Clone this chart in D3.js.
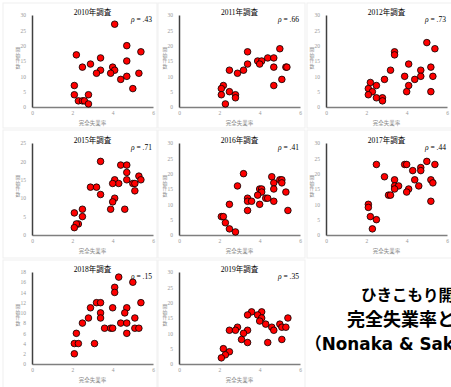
<!DOCTYPE html>
<html lang="ja">
<head>
    <meta charset="UTF-8">
    <title>ひきこもり開始件数と完全失業率</title>
    <style>
        body {
            margin: 0;
            background: #fff;
            overflow: hidden;
        }
        svg {
            display: block;
        }
        .tick text {
            fill: #999;
            font-family: "Liberation Serif", serif;
            font-size: 5.5px;
        }
        .domain {
            stroke-width: 1.5;
        }
        .title {
            font-family: "Liberation Serif", "Noto Sans CJK JP", serif;
            font-size: 7.5px;
            fill: #000;
        }
        .rho {
            font-family: "Liberation Serif", serif;
            font-size: 7.5px;
            fill: #000;
        }
        .axis-label {
            font-family: "Noto Sans CJK JP", sans-serif;
            font-size: 5.5px;
            fill: #8c8c8c;
        }
        .y-label {
            font-family: "Noto Sans CJK JP", sans-serif;
            font-size: 4.9px;
            fill: #8c8c8c;
            writing-mode: vertical-rl;
            text-orientation: upright;
            letter-spacing: 0.5px;
        }
        .note {
            font-family: "Noto Sans CJK JP", sans-serif;
            font-weight: 700;
            fill: #000;
        }
    </style>
</head>
<body>
    <svg id="chart" width="451" height="387"></svg>

    <script src="https://d3js.org/d3.v7.min.js"></script>
    <script>
        // survey years, correlation and y-axis max per panel
        const years = ['2010', '2011', '2012', '2015', '2016', '2017', '2018', '2019'];
        const rho = ['.43', '.66', '.73', '.71', '.41', '.44', '.15', '.35'];
        const yMax = [30, 30, 30, 25, 30, 30, 18, 30];
        const yStep = [5, 5, 5, 5, 5, 5, 2, 5];
        const xTicks = [0, 2, 4, 6];

        // [完全失業率, 開始件数]
        const data2010 = [[4.1,27],[4.7,20],[5.4,18],[2.2,17],[3.4,16],[4.7,15],[2.9,14],[2.5,13],[4.0,13],[3.4,12],[4.1,12],[3.2,11],[3.9,11],[5.3,11],[4.7,10],[4.4,9],[5.0,6],[2.1,7],[2.1,4],[2.3,2],[2.5,2],[2.6,2],[2.8,4],[2.8,1]];
        const data2011 = [[5.0,19],[3.4,18],[4.4,16],[4.7,16],[3.9,15],[4.1,15],[4.0,14],[3.4,14],[4.7,13],[5.3,13],[5.35,13],[2.5,12],[3.2,12],[2.9,11],[5.1,9],[2.2,7],[2.1,6],[2.5,5],[4.7,7],[2.1,4],[2.8,4],[2.8,3],[2.3,1]];
        const data2012 = [[5.0,21],[5.4,19],[3.4,18],[3.4,17],[4.1,14],[5.2,13],[3.2,12],[4.7,12],[4.7,10],[3.9,10],[5.3,10],[4.4,9],[2.9,9],[2.2,8],[2.5,7],[4.1,7],[2.1,6],[2.3,5],[4.0,5],[5.2,5],[2.1,4],[2.5,3],[2.8,3],[2.8,2]];
        const data2015 = [[3.4,20],[4.4,19],[4.7,19],[4.7,17],[4.7,15],[5.3,16],[5.4,15],[4.1,15],[4.3,14],[4.0,14],[5.0,14],[5.1,14],[5.1,12],[2.9,13],[3.2,13],[3.4,11],[4.1,10],[4.0,9],[3.9,7],[4.6,7],[2.5,7],[2.5,5],[2.1,6],[2.3,3],[2.2,3],[2.1,2]];
        const data2016 = [[3.2,20],[4.6,19],[5.0,18],[5.1,18],[4.7,17],[5.1,17],[2.9,16],[4.0,15],[4.1,15],[4.7,15],[4.1,14],[5.3,14],[3.9,13],[3.4,12],[4.3,12],[4.4,12],[3.4,11],[3.6,11],[4.7,11],[2.5,10],[4.0,10],[3.4,8],[5.4,8],[2.1,6],[2.2,6],[2.3,4],[2.5,2],[2.8,1]];
        const data2017 = [[5.0,24],[2.5,23],[3.9,23],[4.0,23],[5.4,23],[4.7,22],[4.7,21],[4.3,21],[2.9,19],[3.4,18],[4.4,18],[5.2,18],[5.3,17],[3.4,16],[3.6,16],[4.6,16],[3.4,15],[4.1,15],[4.0,14],[3.1,13],[3.2,13],[5.2,11],[2.1,10],[2.1,9],[2.2,6],[2.5,5],[2.3,2]];
        const data2018 = [[4.3,17],[5.0,16],[4.1,15],[4.1,14],[3.2,12],[3.4,12],[5.4,12],[2.9,11],[4.0,11],[4.7,11],[3.4,10],[4.6,10],[3.4,9],[2.8,9],[5.1,9],[2.5,8],[4.4,8],[4.7,8],[3.6,7],[3.9,7],[4.0,7],[5.1,7],[5.3,7],[2.2,6],[4.7,6],[2.1,4],[2.3,4],[3.1,4],[2.1,2]];
        const data2019 = [[3.6,17],[4.1,17],[3.9,16],[3.4,16],[4.1,15],[5.4,15],[4.0,14],[4.3,13],[5.0,13],[2.9,12],[4.6,12],[5.1,12],[5.3,12],[4.7,11],[2.5,11],[2.8,11],[3.4,11],[3.2,10],[3.1,8],[5.1,8],[3.4,7],[4.4,7],[2.2,5],[2.5,4],[2.3,3],[2.1,2]];
        const panelData = [data2010, data2011, data2012, data2015, data2016, data2017, data2018, data2019];

        const noteLines = ['ひきこもり開始件数と', '完全失業率との相関', '（Nonaka & Sakai）'];

        // grid layout: axis origin of each column / row
        const colX = [32, 179, 326];
        const rowY = [107, 235, 364];
        const plotW = 121;
        const plotH = 92;

        const svg = d3.select('#chart');

        // faint frames of the pasted chart images
        const frameX = [3, 158, 307];
        const frameW = [154, 147, 150];
        const frameY = [3, 130, 260];
        const frameH = [125, 128, 130];
        years.forEach((year, i) => {
            const c = i % 3, r = Math.floor(i / 3);
            svg.append('rect')
                .attr('x', frameX[c]).attr('y', frameY[r])
                .attr('width', frameW[c]).attr('height', frameH[r])
                .attr('fill', 'none')
                .attr('stroke', '#efefef')
                .attr('stroke-width', 1);
        });

        years.forEach((year, i) => {
            const c = i % 3, r = Math.floor(i / 3);
            const x0 = colX[c], y0 = rowY[r];

            const x = d3.scaleLinear().domain([0, 6]).range([x0, x0 + plotW]);
            const y = d3.scaleLinear().domain([0, yMax[i]]).range([y0, y0 - plotH]);

            const g = svg.append('g');

            g.append('g')
                .attr('transform', `translate(0,${y0})`)
                .call(d3.axisBottom(x).tickValues(xTicks).tickFormat(d3.format('d')).tickSize(0).tickPadding(4))
                .call(a => a.select('.domain').attr('stroke', '#7f7f7f'));

            g.append('g')
                .attr('transform', `translate(${x0},0)`)
                .call(d3.axisLeft(y).tickValues(d3.range(0, yMax[i] + 0.01, yStep[i])).tickFormat(d3.format('d')).tickSize(0).tickPadding(6))
                .call(a => a.select('.domain').attr('stroke', '#404040'));

            g.append('text')
                .attr('class', 'title')
                .attr('x', x(3))
                .attr('y', y(yMax[i]) - 0.5)
                .attr('text-anchor', 'middle')
                .text(`${year}年調査`);

            const rt = g.append('text')
                .attr('class', 'rho')
                .attr('x', x(6) - 1)
                .attr('y', y(yMax[i]) + 7)
                .attr('text-anchor', 'end');
            rt.append('tspan').attr('font-style', 'italic').text('ρ');
            rt.append('tspan').text(` = ${rho[i]}`);

            g.append('text')
                .attr('class', 'axis-label')
                .attr('x', x(3))
                .attr('y', y0 + 18)
                .attr('text-anchor', 'middle')
                .text('完全失業率');

            // vertical y label
            g.append('text')
                .attr('class', 'y-label')
                .attr('x', x0 - 14)
                .attr('y', y(yMax[i]) + 32)
                .text('開始件数');

            g.selectAll('circle')
                .data(panelData[i])
                .enter().append('circle')
                .attr('cx', d => x(d[0]))
                .attr('cy', d => y(d[1]))
                .attr('r', 3.3)
                .attr('fill', '#ff0000')
                .attr('stroke', '#000')
                .attr('stroke-width', 0.8);
        });

        // caption at the lower right, runs past the right edge as in the slide
        const noteX = [361, 347, 305];
        const noteSize = [15.5, 18, 16.8];
        const noteFont = ['"Noto Sans CJK JP"', '"Noto Sans CJK JP"', '"DejaVu Sans", "Noto Sans CJK JP"'];
        noteLines.forEach((line, k) => {
            svg.append('text')
                .attr('class', 'note')
                .attr('x', noteX[k])
                .attr('y', 301 + k * 24.5)
                .style('font-size', noteSize[k] + 'px')
                .style('font-family', noteFont[k])
                .text(line);
        });
    </script>
</body>
</html>
